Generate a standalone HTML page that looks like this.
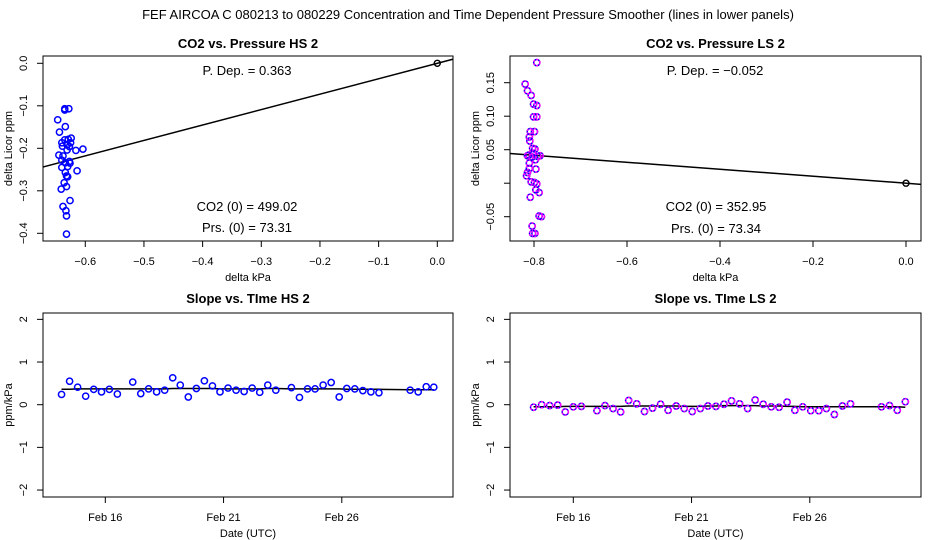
<!DOCTYPE html>
<html><head><meta charset="utf-8"><style>
body{margin:0;background:#fff}
svg{display:block;font-family:"Liberation Sans",sans-serif}
</style></head><body>
<svg id="c" width="936" height="540" xmlns="http://www.w3.org/2000/svg">
<rect width="936" height="540" fill="#fff"/>
<text x="468" y="19" text-anchor="middle" font-size="13">FEF   AIRCOA C   080213 to 080229   Concentration and Time Dependent Pressure Smoother (lines in lower panels)</text>
</svg>
<script>
// HS pressure scatter
const hsKpa=[-0.647,-0.644,-0.645,-0.641,-0.640,-0.640,-0.639,-0.638,-0.638,-0.636,-0.635,-0.635,-0.634,-0.634,-0.634,-0.633,-0.632,-0.632,-0.632,-0.632,-0.631,-0.631,-0.630,-0.630,-0.629,-0.628,-0.627,-0.627,-0.626,-0.626,-0.625,-0.624,-0.616,-0.614,-0.604,-0.635,-0.640];
const hsPpm=[-0.133,-0.162,-0.216,-0.296,-0.228,-0.245,-0.195,-0.218,-0.337,-0.281,-0.110,-0.180,-0.234,-0.257,-0.149,-0.347,-0.359,-0.402,-0.265,-0.290,-0.204,-0.192,-0.243,-0.267,-0.179,-0.107,-0.196,-0.231,-0.323,-0.235,-0.187,-0.176,-0.205,-0.253,-0.202,-0.107,-0.187];
const hsSlope=0.363;
// LS pressure scatter
const lsKpa=[-0.794,-0.819,-0.814,-0.806,-0.801,-0.794,-0.801,-0.794,-0.808,-0.799,-0.810,-0.809,-0.803,-0.798,-0.814,-0.804,-0.792,-0.787,-0.797,-0.810,-0.796,-0.810,-0.814,-0.816,-0.806,-0.799,-0.794,-0.796,-0.789,-0.808,-0.789,-0.784,-0.804,-0.803,-0.798,-0.811,-0.803];
const lsPpm=[0.180,0.148,0.138,0.131,0.118,0.116,0.099,0.099,0.077,0.077,0.069,0.063,0.052,0.051,0.041,0.039,0.040,0.041,0.035,0.030,0.021,0.022,0.016,0.011,0.002,0.001,-0.001,-0.010,-0.014,-0.021,-0.049,-0.050,-0.064,-0.075,-0.075,0.042,0.045];
const lsSlope=-0.052;
// HS slope vs time (day of Feb)
const hsDays=[14.15,14.49,14.83,15.17,15.51,15.84,16.17,16.51,17.16,17.50,17.83,18.17,18.51,18.85,19.17,19.51,19.85,20.19,20.53,20.85,21.19,21.53,21.87,22.21,22.53,22.87,23.21,23.87,24.21,24.55,24.87,25.21,25.55,25.89,26.21,26.55,26.89,27.23,27.57,28.89,29.23,29.57,29.89];
const hsVals=[0.24,0.55,0.41,0.20,0.36,0.30,0.36,0.25,0.53,0.26,0.37,0.30,0.34,0.63,0.46,0.18,0.38,0.56,0.44,0.30,0.39,0.34,0.31,0.39,0.29,0.46,0.34,0.40,0.17,0.37,0.37,0.46,0.52,0.18,0.38,0.37,0.33,0.30,0.28,0.34,0.30,0.42,0.41];
const hsSmooth=[0.36,0.36,0.37,0.37,0.37,0.37,0.37,0.37,0.37,0.37,0.37,0.37,0.37,0.38,0.38,0.38,0.38,0.38,0.38,0.37,0.37,0.37,0.37,0.37,0.37,0.38,0.38,0.37,0.37,0.37,0.37,0.37,0.37,0.37,0.36,0.36,0.36,0.36,0.36,0.35,0.35,0.35,0.35];
// LS slope vs time
const lsDays=[14.32,14.66,15.00,15.34,15.66,16.00,16.34,17.00,17.34,17.68,18.00,18.34,18.68,19.01,19.35,19.69,20.01,20.35,20.69,21.03,21.37,21.69,22.03,22.37,22.69,23.03,23.37,23.69,24.03,24.37,24.70,25.04,25.37,25.70,26.04,26.38,26.70,27.04,27.38,27.72,29.03,29.37,29.70,30.04];
const lsVals=[-0.06,0.00,-0.02,-0.01,-0.17,-0.05,-0.04,-0.14,-0.02,-0.09,-0.17,0.10,0.02,-0.16,-0.08,0.01,-0.13,-0.03,-0.09,-0.16,-0.09,-0.03,-0.04,0.01,0.09,0.02,-0.09,0.11,0.01,-0.05,-0.06,0.06,-0.13,-0.05,-0.14,-0.14,-0.09,-0.23,-0.03,0.02,-0.05,-0.02,-0.13,0.07];
const lsSmooth=[-0.05,-0.05,-0.05,-0.05,-0.04,-0.04,-0.04,-0.04,-0.04,-0.04,-0.04,-0.03,-0.03,-0.03,-0.03,-0.03,-0.03,-0.03,-0.04,-0.04,-0.04,-0.03,-0.03,-0.02,-0.02,-0.02,-0.02,-0.02,-0.03,-0.03,-0.03,-0.04,-0.04,-0.05,-0.05,-0.05,-0.05,-0.05,-0.05,-0.05,-0.05,-0.05,-0.05,-0.06];
const kpaTicksL=[-0.6,-0.5,-0.4,-0.3,-0.2,-0.1,0.0];
const ppmTicksL=[0.0,-0.1,-0.2,-0.3,-0.4];
const kpaTicksR=[-0.8,-0.6,-0.4,-0.2,0.0];
const ppmTicksR=[0.15,0.10,0.05,0.00,-0.05];
const ppmTickLabR=["0.15","0.10","0.05","","\u22120.05"];
const slopeTicks=[2,1,0,-1,-2];
const dateTicks=[16,21,26];
const dateLabels=["Feb 16","Feb 21","Feb 26"];

const svg=document.getElementById('c');
const NS='http://www.w3.org/2000/svg';
function mk(tag,attrs,parent){const e=document.createElementNS(NS,tag);for(const k in attrs)e.setAttribute(k,attrs[k]);(parent||svg).appendChild(e);return e;}
function fmt(v,d){return (v<0?'\u2212':'')+Math.abs(v).toFixed(d);}

function panel(o){
  const g=mk('g',{});
  
  
  const clipId='clip'+o.name;
  const cp=mk('clipPath',{id:clipId},g);mk('rect',{x:o.L,y:o.T,width:o.R-o.L,height:o.B-o.T},cp);
  const t=mk('text',{x:(o.L+o.R)/2,y:o.titleY,'text-anchor':'middle','font-size':13,'font-weight':'bold'},g);t.textContent=o.title;
  
  
  const box=mk('rect',{x:o.L,y:o.T,width:o.R-o.L,height:o.B-o.T,fill:'none',stroke:'#000','stroke-width':1},g);
  
  
  o.xt.forEach((v,i)=>{const x=o.sx(v);mk('line',{x1:x,x2:x,y1:o.B,y2:o.B+6,stroke:'#000'},g);
    const tx=mk('text',{x:x,y:o.B+24,'text-anchor':'middle','font-size':11},g);tx.textContent=o.xl[i];
    
    });
  o.yt.forEach((v,i)=>{const y=o.sy(v);mk('line',{x1:o.L,x2:o.L-6,y1:y,y2:y,stroke:'#000'},g);
    const ty=mk('text',{x:o.L-19,y:y,'text-anchor':'middle','font-size':11,transform:`rotate(-90 ${o.L-19} ${y})`,'dominant-baseline':'central'},g);ty.textContent=o.yl[i];
    
    });
  const xl=mk('text',{x:(o.L+o.R)/2,y:o.B+40,'text-anchor':'middle','font-size':11},g);xl.textContent=o.xlab;
  
  
  const yx=o.L-31,yy=(o.T+o.B)/2;
  const yl=mk('text',{x:yx,y:yy,'text-anchor':'middle','font-size':11,transform:`rotate(-90 ${yx} ${yy})`},g);yl.textContent=o.ylab;
  
  
  const plot=mk('g',{'clip-path':`url(#${clipId})`},g);
  return {g,plot};
}
function circ(p,x,y,ls){
  const c=mk('circle',{cx:x,cy:y,r:3.1,fill:'none',stroke:'#0000ff','stroke-width':1.5},p);
  
  
  if(ls){mk('circle',{cx:x,cy:y,r:3.1,fill:'none',stroke:'#ff00ff','stroke-width':1.5,'stroke-dasharray':'2 1.4'},p);}
}
function txt(g,x,y,s,name){const t=mk('text',{x:x,y:y,'text-anchor':'middle','font-size':13},g);t.textContent=s;
  
  }

// Top-left
(function(){
  const L=43,R=453,T=56,B=241;
  const sx=v=>437.3+v*586.7, sy=v=>63.3-v*425;
  const {g,plot}=panel({name:'co2-pressure-hs',L,R,T,B,sx,sy,title:'CO2 vs. Pressure HS 2',titleY:48,
    xt:kpaTicksL,xl:kpaTicksL.map(v=>fmt(v,1)),yt:ppmTicksL,yl:ppmTicksL.map(v=>fmt(v,1)),xlab:'delta kPa',ylab:'delta Licor ppm'});
  const fit=mk('line',{x1:sx(-0.8),y1:sy(-0.8*hsSlope),x2:sx(0.1),y2:sy(0.1*hsSlope),stroke:'#000','stroke-width':1.5},plot);
  
  
  hsKpa.forEach((v,i)=>circ(plot,sx(v),sy(hsPpm[i]),false));
  const z=mk('circle',{cx:sx(0),cy:sy(0),r:3,fill:'none',stroke:'#000','stroke-width':1.4},plot);
  
  
  txt(g,247,75,'P. Dep. =  0.363','p-dep-label');
  txt(g,247,211,'CO2 (0) =  499.02','co2-zero-label');
  txt(g,247,232,'Prs. (0) =  73.31','prs-zero-label');
})();
// Top-right
(function(){
  const L=510,R=921,T=56,B=241;
  const sx=v=>906+v*465, sy=v=>183.2-v*670;
  const {g,plot}=panel({name:'co2-pressure-ls',L,R,T,B,sx,sy,title:'CO2 vs. Pressure LS 2',titleY:48,
    xt:kpaTicksR,xl:kpaTicksR.map(v=>fmt(v,1)),yt:ppmTicksR,yl:ppmTickLabR,xlab:'delta kPa',ylab:'delta Licor ppm'});
  const fit=mk('line',{x1:sx(-1),y1:sy(-1*lsSlope),x2:sx(0.1),y2:sy(0.1*lsSlope),stroke:'#000','stroke-width':1.5},plot);
  
  
  lsKpa.forEach((v,i)=>circ(plot,sx(v),sy(lsPpm[i]),true));
  const z=mk('circle',{cx:sx(0),cy:sy(0),r:3,fill:'none',stroke:'#000','stroke-width':1.4},plot);
  
  
  txt(g,715,75,'P. Dep. =  \u22120.052','p-dep-label');
  txt(g,716,211,'CO2 (0) =  352.95','co2-zero-label');
  txt(g,716,233,'Prs. (0) =  73.34','prs-zero-label');
})();
// Bottom panels
function timePanel(name,title,L,R,x16,days,vals,smooth,ls){
  const T=313,B=497;
  const sx=v=>x16+(v-16)*23.65, sy=v=>404.7-v*42.67;
  const {g,plot}=panel({name,L,R,T,B,sx,sy,title,titleY:303,
    xt:dateTicks,xl:dateLabels,yt:slopeTicks,yl:slopeTicks.map(v=>v<0?'\u2212'+(-v):String(v)),xlab:'Date (UTC)',ylab:'ppm/kPa'});
  const d=days.map((v,i)=>(i?'L':'M')+sx(v).toFixed(1)+' '+sy(smooth[i]).toFixed(1)).join(' ');
  const p=mk('path',{d:d,fill:'none',stroke:'#000','stroke-width':1.5},plot);
  
  
  days.forEach((v,i)=>circ(plot,sx(v),sy(vals[i]),ls));
}
timePanel('slope-time-hs','Slope vs. TIme HS 2',43,453,105.3,hsDays,hsVals,hsSmooth,false);
timePanel('slope-time-ls','Slope vs. TIme LS 2',510,921,573.3,lsDays,lsVals,lsSmooth,true);
</script>
</body></html>
